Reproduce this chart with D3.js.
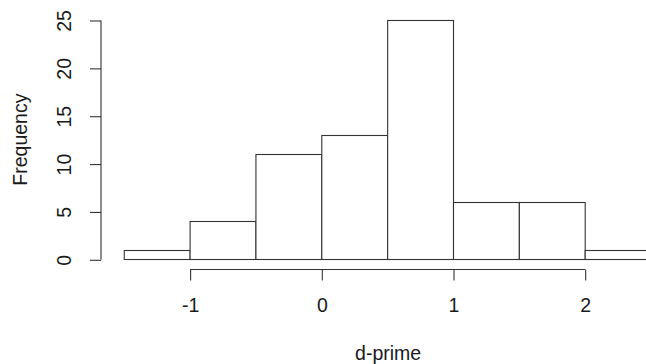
<!DOCTYPE html>
<html>
<head>
<meta charset="utf-8">
<script src="https://cdn.jsdelivr.net/npm/d3@7"></script>
<style>
  html, body { margin: 0; padding: 0; background: #fff; }
  svg { display: block; }
  text { font-family: "Liberation Sans", Arial, sans-serif; fill: #1a1a1a; }
</style>
</head>
<body>
<svg id="chart" width="646" height="364"></svg>
<script>
// Histogram data
const binStarts = [-1.5, -1.0, -0.5, 0.0, 0.5, 1.0, 1.5, 2.0];
const binWidth = 0.5;
const counts = [1, 4, 11, 13, 25, 6, 6, 1];
const xTicks = [-1, 0, 1, 2];
const yTicks = [0, 5, 10, 15, 20, 25];
const xTitle = "d-prime";
const yTitle = "Frequency";

const svg = d3.select("#chart");
const fontSize = 19.5;
const lineColor = "#333";
const fmt = d => String(d);

const x = d3.scaleLinear().domain([0, 1]).range([321.3, 453.0]);
const y = d3.scaleLinear().domain([0, 25]).range([259.3, 20]);

// bars
svg.append("g").selectAll("rect")
  .data(binStarts.map((s, i) => ({ s, c: counts[i] })))
  .join("rect")
  .attr("x", d => x(d.s) + 0.5)
  .attr("y", d => Math.round(y(d.c)) + 0.5)
  .attr("width", d => x(d.s + binWidth) - x(d.s))
  .attr("height", d => Math.round(y(0)) - Math.round(y(d.c)))
  .attr("fill", "#fff")
  .attr("stroke", lineColor)
  .attr("stroke-width", 1.1);

// x axis
const xAxisY = 269.5;
const xAxis = d3.axisBottom(x).tickValues(xTicks).tickFormat(fmt)
  .tickSize(11).tickPadding(17.5);
const gx = svg.append("g").attr("transform", `translate(0.5,${xAxisY})`).call(xAxis);
gx.select(".domain").attr("d", `M${x(xTicks[0])},0H${x(xTicks[xTicks.length - 1])}`)
  .attr("stroke", lineColor).attr("stroke-width", 1.1);
gx.selectAll(".tick line").attr("stroke", lineColor).attr("stroke-width", 1.1);
gx.selectAll(".tick text").style("font-size", fontSize + "px").attr("fill", "#1a1a1a")
  .style("font-family", "'Liberation Sans', Arial, sans-serif");

// y axis
const yAxisX = 101;
const yAxis = d3.axisLeft(y).tickValues(yTicks).tickFormat(fmt)
  .tickSize(11).tickPadding(0);
const gy = svg.append("g").attr("transform", `translate(${yAxisX},0.5)`).call(yAxis);
gy.select(".domain").attr("d", `M0,${y(yTicks[0])}V${y(yTicks[yTicks.length - 1])}`)
  .attr("stroke", lineColor).attr("stroke-width", 1.1);
gy.selectAll(".tick line").attr("stroke", lineColor).attr("stroke-width", 1.1);
gy.selectAll(".tick text")
  .attr("x", null).attr("dy", null)
  .attr("transform", "translate(-35,0) rotate(-90)")
  .attr("text-anchor", "middle")
  .attr("dominant-baseline", "middle")
  .style("font-size", fontSize + "px").attr("fill", "#1a1a1a")
  .style("font-family", "'Liberation Sans', Arial, sans-serif");

// titles
svg.append("text")
  .attr("x", (x(-1) + x(2)) / 2 + 1)
  .attr("y", 360)
  .attr("text-anchor", "middle")
  .style("font-size", fontSize + "px")
  .text(xTitle);

svg.append("text")
  .attr("transform", `translate(27,${(y(0) + y(25)) / 2}) rotate(-90)`)
  .attr("text-anchor", "middle")
  .style("font-size", fontSize + "px")
  .text(yTitle);
</script>
</body>
</html>
